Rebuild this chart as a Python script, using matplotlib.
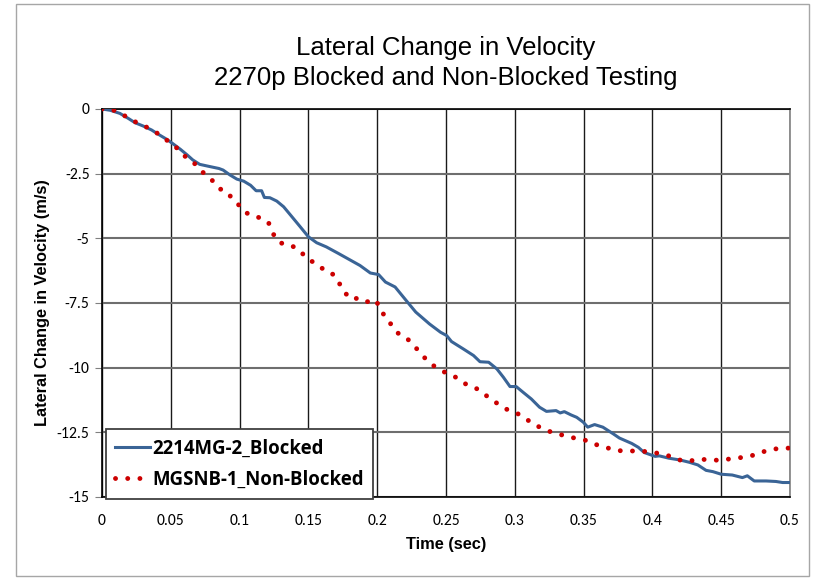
import matplotlib
matplotlib.use("Agg")
import matplotlib.pyplot as plt
from matplotlib.patches import Rectangle

# ---- data ----
t_blocked = [0.0, 0.006, 0.013, 0.019, 0.024, 0.030, 0.036, 0.041, 0.047, 0.052, 0.057, 0.062,
             0.066, 0.071, 0.077, 0.085, 0.088, 0.093, 0.098, 0.103, 0.108, 0.112, 0.116, 0.118,
             0.122, 0.127, 0.132, 0.137, 0.144, 0.150, 0.156, 0.163, 0.172, 0.1875, 0.195, 0.201,
             0.206, 0.213, 0.221, 0.228, 0.238, 0.246, 0.2505, 0.254, 0.2627, 0.270, 0.2747,
             0.281, 0.287, 0.2917, 0.2965, 0.301, 0.306, 0.312, 0.318, 0.323, 0.330, 0.333,
             0.336, 0.341, 0.345, 0.3498, 0.353, 0.358, 0.364, 0.3716, 0.376, 0.385, 0.3898,
             0.394, 0.402, 0.405, 0.412, 0.4201, 0.427, 0.433, 0.439, 0.444, 0.450, 0.458,
             0.4654, 0.469, 0.474, 0.4826, 0.4898, 0.4946, 0.5]
v_blocked = [0.0, -0.05, -0.17, -0.36, -0.53, -0.66, -0.81, -0.98, -1.17, -1.36, -1.56, -1.78,
             -1.97, -2.14, -2.21, -2.30, -2.36, -2.55, -2.71, -2.79, -2.95, -3.16, -3.16, -3.42,
             -3.43, -3.56, -3.78, -4.10, -4.55, -4.94, -5.17, -5.33, -5.59, -6.05, -6.34, -6.40,
             -6.69, -6.88, -7.40, -7.85, -8.31, -8.63, -8.76, -8.99, -9.28, -9.53, -9.77,
             -9.79, -10.05, -10.37, -10.73, -10.73, -10.95, -11.21, -11.53, -11.69, -11.66, -11.75,
             -11.70, -11.83, -11.92, -12.11, -12.30, -12.20, -12.30, -12.56, -12.72, -12.93, -13.08,
             -13.28, -13.43, -13.41, -13.50, -13.57, -13.66, -13.76, -13.97, -14.02, -14.12, -14.15,
             -14.25, -14.18, -14.38, -14.38, -14.40, -14.44, -14.44]

t_nonblocked = [0.0, 0.007, 0.013, 0.019, 0.024, 0.0295, 0.0356, 0.0414, 0.0465, 0.0518, 0.0571,
                0.061, 0.0666, 0.0712, 0.0758, 0.081, 0.0853, 0.0911, 0.095, 0.0998, 0.104, 0.110,
                0.1155, 0.121, 0.1235, 0.1264, 0.1318, 0.138, 0.1439, 0.148, 0.1538, 0.159, 0.165,
                0.170, 0.173, 0.1766, 0.1815, 0.187, 0.1928, 0.1984, 0.202, 0.205, 0.208, 0.2112,
                0.2156, 0.2214, 0.2258, 0.2304, 0.2347, 0.2396, 0.2449, 0.2505, 0.2565, 0.2619,
                0.268, 0.274, 0.279, 0.2844, 0.290, 0.2958, 0.3018, 0.3076, 0.3132, 0.319, 0.325,
                0.3314, 0.3379, 0.3445, 0.351, 0.357, 0.3637, 0.370, 0.3765, 0.383, 0.3898, 0.3966,
                0.403, 0.4097, 0.415, 0.4213, 0.4278, 0.4346, 0.441, 0.448, 0.4545, 0.461, 0.4678,
                0.4746, 0.4806, 0.487, 0.4937, 0.5]
v_nonblocked = [0.0, -0.01, -0.17, -0.33, -0.49, -0.63, -0.78, -0.98, -1.18, -1.41, -1.61,
                -1.87, -2.07, -2.33, -2.58, -2.80, -3.08, -3.21, -3.50, -3.73, -3.99, -4.15,
                -4.21, -4.39, -4.71, -5.04, -5.23, -5.29, -5.47, -5.74, -5.93, -6.14, -6.26,
                -6.50, -6.79, -7.11, -7.36, -7.30, -7.45, -7.37, -7.66, -7.98, -8.15, -8.43,
                -8.69, -8.85, -9.11, -9.36, -9.63, -9.88, -10.05, -10.22, -10.35, -10.57,
                -10.72, -10.85, -11.07, -11.28, -11.48, -11.66, -11.77, -11.95, -12.18, -12.32, -12.46,
                -12.57, -12.64, -12.74, -12.80, -12.95, -13.03, -13.15, -13.21, -13.21, -13.24, -13.24,
                -13.30, -13.38, -13.45, -13.60, -13.60, -13.54, -13.56, -13.58, -13.54, -13.50, -13.45,
                -13.37, -13.25, -13.16, -13.11, -13.11]

x_ticks = [0, 0.05, 0.1, 0.15, 0.2, 0.25, 0.3, 0.35, 0.4, 0.45, 0.5]
x_ticklabels = ["0", "0.05", "0.1", "0.15", "0.2", "0.25", "0.3", "0.35", "0.4", "0.45", "0.5"]
y_ticks = [0, -2.5, -5, -7.5, -10, -12.5, -15]
y_ticklabels = ["0", "-2.5", "-5", "-7.5", "-10", "-12.5", "-15"]

title_line1 = "Lateral Change in Velocity"
title_line2 = "2270p Blocked and Non-Blocked Testing"
xlabel = "Time (sec)"
ylabel = "Lateral Change in Velocity (m/s)"
label_blocked = "2214MG-2_Blocked"
label_nonblocked = "MGSNB-1_Non-Blocked"

W, H = 815, 579
fig = plt.figure(figsize=(W / 100, H / 100), dpi=100)
fig.patch.set_facecolor("white")

# outer chart frame
fig.add_artist(Rectangle((16 / W, 1 - 576 / H), (809 - 16) / W, (576 - 4) / H,
                         transform=fig.transFigure, fill=False, edgecolor="#a6a6a6", lw=1.0))

left, right, top, bottom = 102, 790, 109, 497
ax = fig.add_axes([left / W, 1 - bottom / H, (right - left) / W, (bottom - top) / H])

ax.plot(t_blocked, v_blocked, color="#3a6496", lw=2.2, solid_joinstyle="round",
        label=label_blocked, zorder=3)
ax.plot(t_nonblocked, v_nonblocked, color="#cc0000", lw=3.5, linestyle=(0, (0.01, 2.5)),
        dash_capstyle="round", label=label_nonblocked, zorder=4)

ax.set_xlim(0, 0.5)
ax.set_ylim(-15, 0)
ax.set_xticks(x_ticks)
ax.set_xticklabels(x_ticklabels)
ax.set_yticks(y_ticks)
ax.set_yticklabels(y_ticklabels)

tick_family = ["Carlito", "Lato", "DejaVu Sans"]
for lab in ax.get_xticklabels() + ax.get_yticklabels():
    lab.set_fontfamily(tick_family)
    lab.set_fontsize(11.3)

ax.tick_params(axis="x", length=0, pad=12)
ax.tick_params(axis="y", length=5, color="#808080", pad=4)

ax.grid(True, axis="x", color="#1a1a1a", lw=1.0, zorder=1)
ax.grid(True, axis="y", color="#6e6e6e", lw=1.5, zorder=1)
ax.set_axisbelow(True)

ax.spines["left"].set_color("black")
ax.spines["bottom"].set_color("black")
ax.spines["top"].set_color("black")
ax.spines["right"].set_color("#808080")
for s in ax.spines.values():
    s.set_linewidth(1.2)

ax.set_xlabel(xlabel, fontsize=11.8, fontweight="bold",
              family=["Liberation Sans", "DejaVu Sans"], labelpad=7)
ax.set_ylabel(ylabel, fontsize=11.8, fontweight="bold",
              family=["Liberation Sans", "DejaVu Sans"], labelpad=5)

title_family = ["Liberation Sans", "DejaVu Sans"]
fig.text(446 / W, 1 - 48 / H, title_line1, ha="center", va="center", fontsize=18.5,
         family=title_family)
fig.text(446 / W, 1 - 78 / H, title_line2, ha="center", va="center", fontsize=18.5,
         family=title_family)

leg = ax.legend(loc="lower left", bbox_to_anchor=(4 / (right - left), -2 / (bottom - top)),
                borderaxespad=0, frameon=True, fancybox=False, framealpha=1, edgecolor="#404040",
                prop=dict(family=["Open Sans", "Lato", "DejaVu Sans"], weight="bold", size=13.4),
                handlelength=1.85, handletextpad=0.15, borderpad=0.5, labelspacing=0.6)
leg.get_frame().set_linewidth(1.3)
leg.set_zorder(5)

fig.savefig("out.png", dpi=100, facecolor="white")
